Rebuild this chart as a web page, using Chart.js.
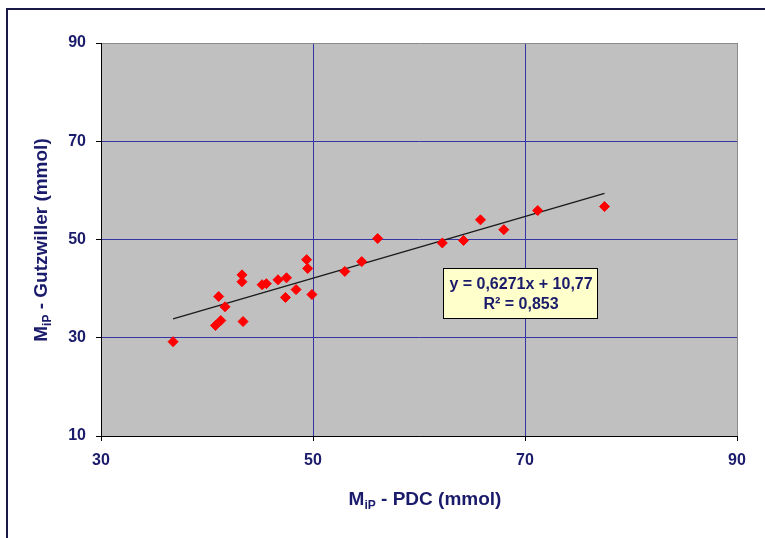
<!DOCTYPE html>
<html>
<head>
<meta charset="utf-8">
<script src="https://cdn.jsdelivr.net/npm/chart.js@4"></script>
<style>
  html, body { margin: 0; padding: 0; background: #ffffff; }
  #wrap { width: 765px; height: 538px; }
</style>
</head>
<body>
<div id="wrap"><canvas id="mipChart" width="765" height="538"></canvas></div>
<script>
// valores (M_iP PDC x Gutzwiller)
const pdcValues = [36.8, 40.8, 41.3, 41.1, 41.7, 43.3, 43.3, 43.4, 45.2, 45.6, 46.7, 47.5, 47.4,
    48.4, 49.4, 49.5, 49.9, 53.0, 54.6, 56.1, 62.2, 64.2, 65.8, 68.0, 71.2, 77.5];
const gutzValues = [29.2, 32.5, 33.5, 38.4, 36.3, 42.8, 41.4, 33.3, 40.8, 41.0, 41.8, 42.2, 38.2,
    39.8, 45.9, 44.1, 38.8, 43.5, 45.5, 50.2, 49.3, 49.8, 54.0, 52.0, 55.9, 56.7];
const xTicks = [30, 50, 70, 90];
const yTicks = [10, 30, 50, 70, 90];
const trendSlope = 0.6271;
const trendIntercept = 10.77;
const eqLines = ['y = 0,6271x + 10,77', 'R² = 0,853'];

const NAVY = '#1b1b6b';
const FONT = "'Liberation Sans Narrow', 'Liberation Sans', Arial, sans-serif";

const points = pdcValues.map(function (x, i) { return { x: x, y: gutzValues[i] }; });
const xMin = Math.min.apply(null, pdcValues);
const xMax = Math.max.apply(null, pdcValues);
const trend = [
    { x: xMin, y: trendSlope * xMin + trendIntercept },
    { x: xMax, y: trendSlope * xMax + trendIntercept }
];

function drawSubText(ctx, parts, size) {
    let total = 0;
    parts.forEach(function (p) {
        ctx.font = 'bold ' + (p.sub ? Math.round(size * 0.62) : size) + 'px ' + FONT;
        p.w = ctx.measureText(p.t).width;
        total += p.w;
    });
    let x = -total / 2;
    parts.forEach(function (p) {
        ctx.font = 'bold ' + (p.sub ? Math.round(size * 0.62) : size) + 'px ' + FONT;
        ctx.fillText(p.t, x, p.sub ? size * 0.3 : 0);
        x += p.w;
    });
}

const decorPlugin = {
    id: 'decor',
    beforeDraw: function (chart) {
        const ctx = chart.ctx, a = chart.chartArea;
        ctx.save();
        ctx.fillStyle = '#ffffff';
        ctx.fillRect(0, 0, chart.width, chart.height);
        ctx.fillStyle = '#c0c0c0';
        ctx.fillRect(a.left, a.top, a.right - a.left, a.bottom - a.top);
        ctx.restore();
    },
    afterDraw: function (chart) {
        const ctx = chart.ctx;
        ctx.save();
        // moldura
        ctx.strokeStyle = '#1a1a4a';
        ctx.lineWidth = 2;
        ctx.beginPath();
        ctx.moveTo(7, chart.height);
        ctx.lineTo(7, 9);
        ctx.lineTo(chart.width, 9);
        ctx.stroke();

        // caixa da equacao
        ctx.fillStyle = '#ffffcc';
        ctx.fillRect(443.5, 268.5, 154, 50);
        ctx.strokeStyle = '#000000';
        ctx.lineWidth = 1;
        ctx.strokeRect(443.5, 268.5, 154, 50);
        ctx.fillStyle = NAVY;
        ctx.textAlign = 'center';
        ctx.textBaseline = 'middle';
        ctx.font = 'bold 16px ' + FONT;
        ctx.fillText(eqLines[0], 521, 285);
        ctx.fillText(eqLines[1], 521, 305);

        // titulos dos eixos
        ctx.textAlign = 'left';
        ctx.textBaseline = 'middle';
        ctx.translate(425, 500);
        drawSubText(ctx, [{ t: 'M' }, { t: 'iP', sub: true }, { t: ' - PDC (mmol)' }], 19);
        ctx.setTransform(1, 0, 0, 1, 0, 0);
        ctx.translate(42, 240);
        ctx.rotate(-Math.PI / 2);
        drawSubText(ctx, [{ t: 'M' }, { t: 'iP', sub: true }, { t: ' - Gutzwiller (mmol)' }], 19);
        ctx.restore();
    }
};

function gridColor(ctx) {
    const v = ctx.tick && ctx.tick.value;
    if (v === 90) return '#8a8a8a';
    return '#3434a4';
}

const ctx = document.getElementById('mipChart').getContext('2d');
const mipChart = new Chart(ctx, {
    type: 'scatter',
    data: {
        datasets: [{
            label: 'Medidas',
            data: points,
            backgroundColor: '#ff0000',
            borderColor: '#ff0000',
            pointStyle: 'rectRot',
            pointRadius: 5,
            pointHoverRadius: 5
        }, {
            type: 'line',
            label: 'Tendencia',
            data: trend,
            borderColor: '#1a1a1a',
            borderWidth: 1.3,
            pointRadius: 0,
            fill: false
        }]
    },
    options: {
        responsive: false,
        animation: false,
        layout: { padding: { left: 0, right: 28, top: 43, bottom: 0 } },
        plugins: {
            legend: { display: false },
            tooltip: { enabled: false }
        },
        scales: {
            x: {
                type: 'linear',
                min: 30,
                max: 90,
                afterBuildTicks: function (scale) { scale.ticks = xTicks.map(function (v) { return { value: v }; }); },
                afterFit: function (scale) { scale.height = 102; },
                grid: { color: gridColor, tickColor: '#000000', tickLength: 5, lineWidth: 1 },
                border: { color: '#000000', width: 1 },
                ticks: {
                    color: NAVY,
                    padding: 10,
                    maxRotation: 0,
                    font: { family: FONT, size: 16, weight: 'bold' }
                }
            },
            y: {
                type: 'linear',
                min: 10,
                max: 90,
                afterBuildTicks: function (scale) { scale.ticks = yTicks.map(function (v) { return { value: v }; }); },
                afterFit: function (scale) { scale.width = 101; },
                grid: { color: gridColor, tickColor: '#000000', tickLength: 5, lineWidth: 1 },
                border: { color: '#000000', width: 1 },
                ticks: {
                    color: NAVY,
                    padding: 10,
                    font: { family: FONT, size: 16, weight: 'bold' }
                }
            }
        }
    },
    plugins: [decorPlugin]
});
</script>
</body>
</html>
